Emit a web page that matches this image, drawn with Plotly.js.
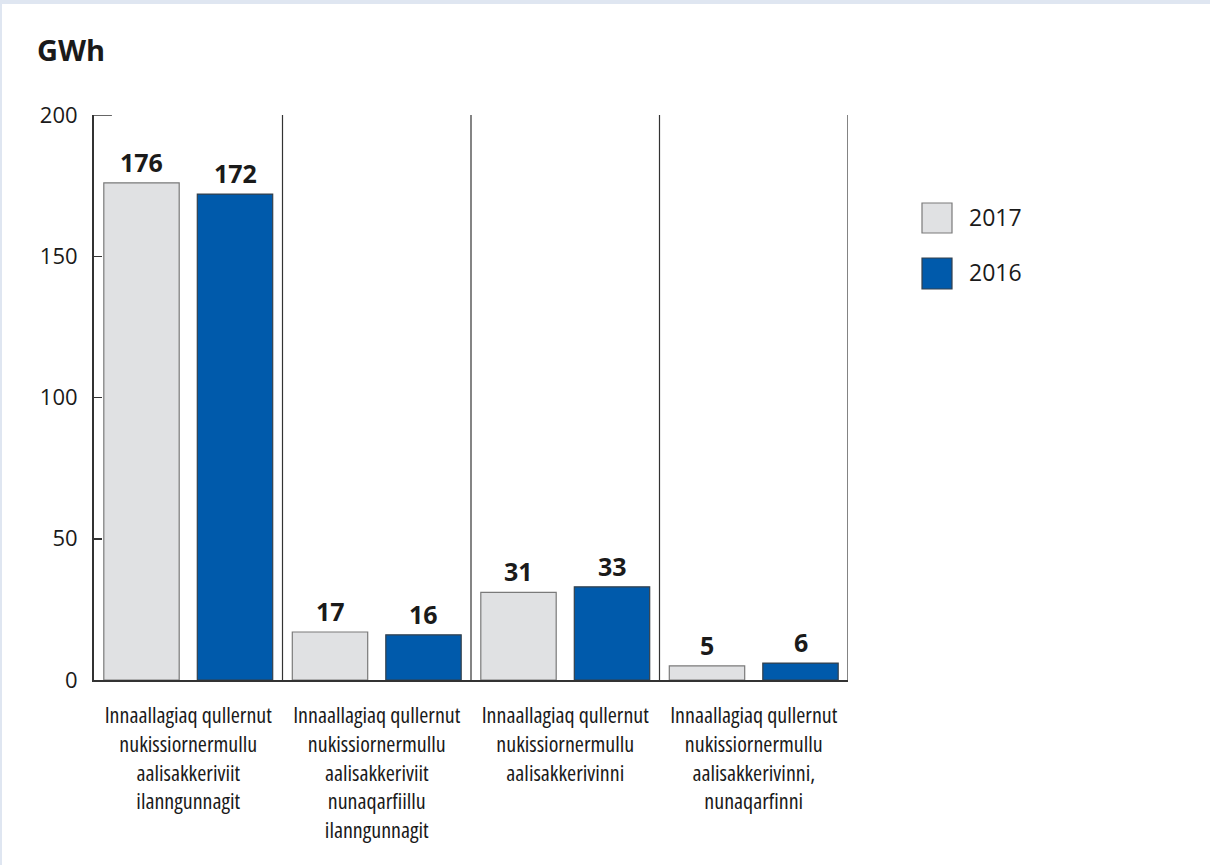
<!DOCTYPE html>
<html>
<head>
<meta charset="utf-8">
<script src="https://cdn.plot.ly/plotly-3.0.1.min.js"></script>
<style>
  html, body { margin: 0; padding: 0; background: #dfe6f1; width: 1210px; height: 865px; overflow: hidden; }
  #chart { position: absolute; left: 2px; top: 4px; width: 1208px; height: 861px; background: #ffffff; }
  #chart .xtick text { font-stretch: condensed !important; }
</style>
</head>
<body>
<div id="chart"></div>
<script>
// ---- data ----
var categories = [
  "Innaallagiaq qullernut<br>nukissiornermullu<br>aalisakkeriviit<br>ilanngunnagit",
  "Innaallagiaq qullernut<br>nukissiornermullu<br>aalisakkeriviit<br>nunaqarfiillu<br>ilanngunnagit",
  "Innaallagiaq qullernut<br>nukissiornermullu<br>aalisakkerivinni",
  "Innaallagiaq qullernut<br>nukissiornermullu<br>aalisakkerivinni,<br>nunaqarfinni"
];
var seriesNames = ["2017", "2016"];
var values2017 = [176, 17, 31, 5];
var values2016 = [172, 16, 33, 6];
var yTicks = [0, 50, 100, 150, 200];

// ---- styles ----
var fills = ["#e0e1e3", "#005aab"];
var edges = ["#7a7a7a", "#34404c"];
var barWidth = 0.40;
var offsets = [-0.448, 0.048];
var seriesValues = [values2017, values2016];

var W = 1208, H = 861, L = 92, T = 111, PW = 754, PH = 565;
function px(x) { return (x - L) / PW; }
function py(y) { return 1 - (y - T) / PH; }

var idx = categories.map(function (_, i) { return i; });

var traces = seriesValues.map(function (vals, s) {
  return {
    type: "bar",
    name: seriesNames[s],
    x: idx,
    y: vals,
    width: barWidth,
    offset: offsets[s],
    marker: { color: fills[s], line: { color: edges[s], width: 1.2 } },
    hoverinfo: "y",
    showlegend: false
  };
});

var annotations = [];
seriesValues.forEach(function (vals, s) {
  vals.forEach(function (v, i) {
    annotations.push({
      x: i + offsets[s] + barWidth / 2, y: v, xref: "x", yref: "y",
      text: "<b>" + v + "</b>", showarrow: false,
      xanchor: "center", yanchor: "bottom", yshift: 2,
      font: { family: "Open Sans, sans-serif", size: 25, color: "#1a1a1a" }
    });
  });
});

var shapes = [];
// vertical separators + right border
[0.5, 1.5, 2.5, 3.5].forEach(function (xv) {
  shapes.push({ type: "line", xref: "x", yref: "y", x0: xv, x1: xv, y0: 0, y1: 200,
    line: { color: "#333333", width: 1.2 } });
});
// top tick at 200
shapes.push({ type: "line", xref: "x", yref: "y", x0: -0.5, x1: -0.405, y0: 200, y1: 200,
  line: { color: "#333333", width: 1.5 } });

// legend (custom squares)
var legY = [[199, 229, 213], [254, 285, 268]];
seriesNames.forEach(function (nm, s) {
  shapes.push({ type: "rect", xref: "paper", yref: "paper",
    x0: px(920), x1: px(950), y0: py(legY[s][1]), y1: py(legY[s][0]),
    fillcolor: fills[s], line: { color: edges[s], width: 1.2 } });
  annotations.push({ xref: "paper", yref: "paper", x: px(965), y: py(legY[s][2]),
    xanchor: "left", yanchor: "middle", showarrow: false, text: nm,
    font: { family: "Open Sans, sans-serif", size: 23, color: "#1a1a1a" } });
});

var layout = {
  width: W, height: H,
  margin: { l: L, t: T, r: W - L - PW, b: H - T - PH, pad: 0 },
  paper_bgcolor: "#ffffff",
  plot_bgcolor: "#ffffff",
  barmode: "overlay",
  title: {
    text: "<b>GWh</b>", xref: "container", yref: "container",
    x: 35 / W, y: 1 - 47 / H, xanchor: "left", yanchor: "middle",
    font: { family: "Open Sans, sans-serif", size: 29, color: "#1a1a1a" }
  },
  xaxis: {
    type: "linear",
    range: [-0.5, 3.5],
    tickmode: "array",
    tickvals: idx,
    ticktext: categories,
    tickangle: 0,
    showgrid: false, zeroline: false,
    showline: true, linecolor: "#333333", linewidth: 2,
    ticks: "", ticklabelstandoff: 15,
    tickfont: { family: "Open Sans, sans-serif", size: 22, color: "#1a1a1a" },
    fixedrange: true
  },
  yaxis: {
    range: [0, 200],
    tickmode: "array",
    tickvals: yTicks,
    ticktext: yTicks.map(String),
    showgrid: false, zeroline: false,
    showline: true, linecolor: "#333333", linewidth: 2,
    ticks: "inside", ticklen: 8, tickwidth: 1.5, tickcolor: "#333333",
    ticklabelstandoff: 10,
    tickfont: { family: "Open Sans, sans-serif", size: 22, color: "#1a1a1a" },
    fixedrange: true
  },
  shapes: shapes,
  annotations: annotations,
  showlegend: false
};

Plotly.newPlot("chart", traces, layout, { displayModeBar: false, staticPlot: true });
</script>
</body>
</html>
